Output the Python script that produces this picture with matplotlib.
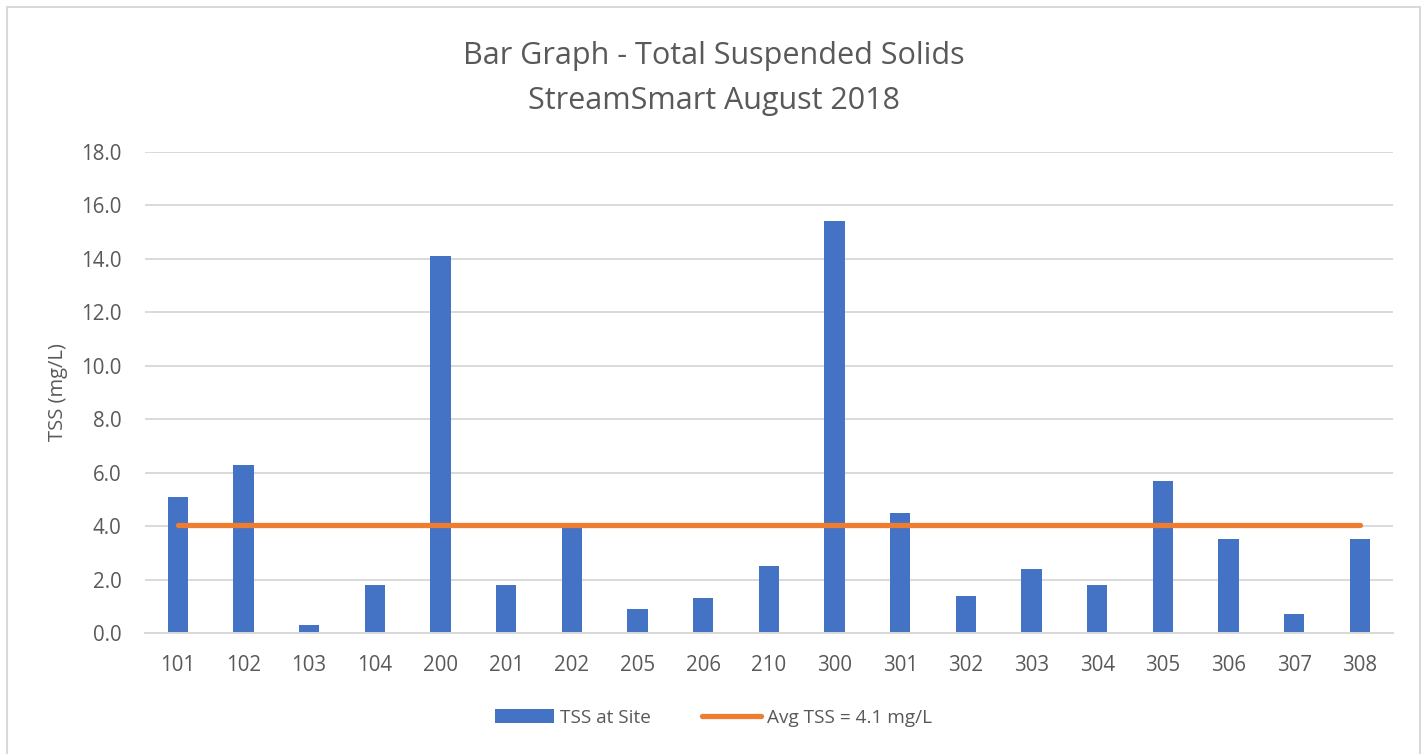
import numpy as np
import matplotlib.pyplot as plt
from matplotlib.patches import Rectangle

plt.rcParams['font.family'] = ['Open Sans', 'DejaVu Sans']

sites = ['101', '102', '103', '104', '200', '201', '202', '205', '206', '210',
         '300', '301', '302', '303', '304', '305', '306', '307', '308']
tss = [5.1, 6.3, 0.3, 1.8, 14.1, 1.8, 4.0, 0.9, 1.3, 2.5,
       15.4, 4.5, 1.4, 2.4, 1.8, 5.7, 3.5, 0.7, 3.5]
avg_tss = np.mean(tss)

text_col = '#595959'
grid_col = '#d9d9d9'

fig = plt.figure(figsize=(14.27, 7.54), dpi=100)
ax = fig.add_axes([0.1016, 0.1605, 0.8744, 0.6379])

x = np.arange(len(sites))
bars = ax.bar(x, tss, width=0.31, color='#4472c4', label='TSS at Site', zorder=2)
line, = ax.plot(x, [avg_tss] * len(x), color='#ed7d31', lw=3.8, solid_capstyle='round',
                label=f'Avg TSS = {avg_tss:.1f} mg/L', zorder=3)

ax.set_xlim(-0.5, len(sites) - 0.5)
ax.set_ylim(0, 18)
ax.set_yticks(np.arange(0, 18.1, 2))
ax.set_yticklabels([f'{v:.1f}' for v in np.arange(0, 18.1, 2)])
ax.set_xticks(x)
ax.set_xticklabels(sites)
ax.yaxis.grid(True, color=grid_col, lw=1.4, zorder=0)
ax.set_axisbelow(True)
for s in ['top', 'right', 'left']:
    ax.spines[s].set_visible(False)
ax.spines['bottom'].set_color(grid_col)
ax.spines['bottom'].set_linewidth(1.4)
ax.tick_params(axis='both', length=0, labelsize=14.8, colors=text_col)
ax.tick_params(axis='x', pad=16)
ax.tick_params(axis='y', pad=17)
ax.set_ylabel('TSS (mg/L)', fontsize=14.5, color=text_col, labelpad=9)

fig.text(0.5, 0.926, 'Bar Graph - Total Suspended Solids', ha='center', va='center',
         fontsize=22, color=text_col)
fig.text(0.5, 0.866, 'StreamSmart August 2018', ha='center', va='center',
         fontsize=22, color=text_col)

leg = fig.legend([bars, line], [bars.get_label(), line.get_label()],
                 loc='center', bbox_to_anchor=(0.5, 0.048), ncol=2, frameon=False,
                 fontsize=13.7, handlelength=3.1, handletextpad=0.3, columnspacing=2.7)
for t in leg.get_texts():
    t.set_color(text_col)

fig.patches.append(Rectangle((7 / 1427, -0.05), 1413 / 1427, 1.05 - 7 / 754,
                             transform=fig.transFigure, fill=False,
                             edgecolor=grid_col, lw=1.5))

fig.savefig('out.png', dpi=100)
